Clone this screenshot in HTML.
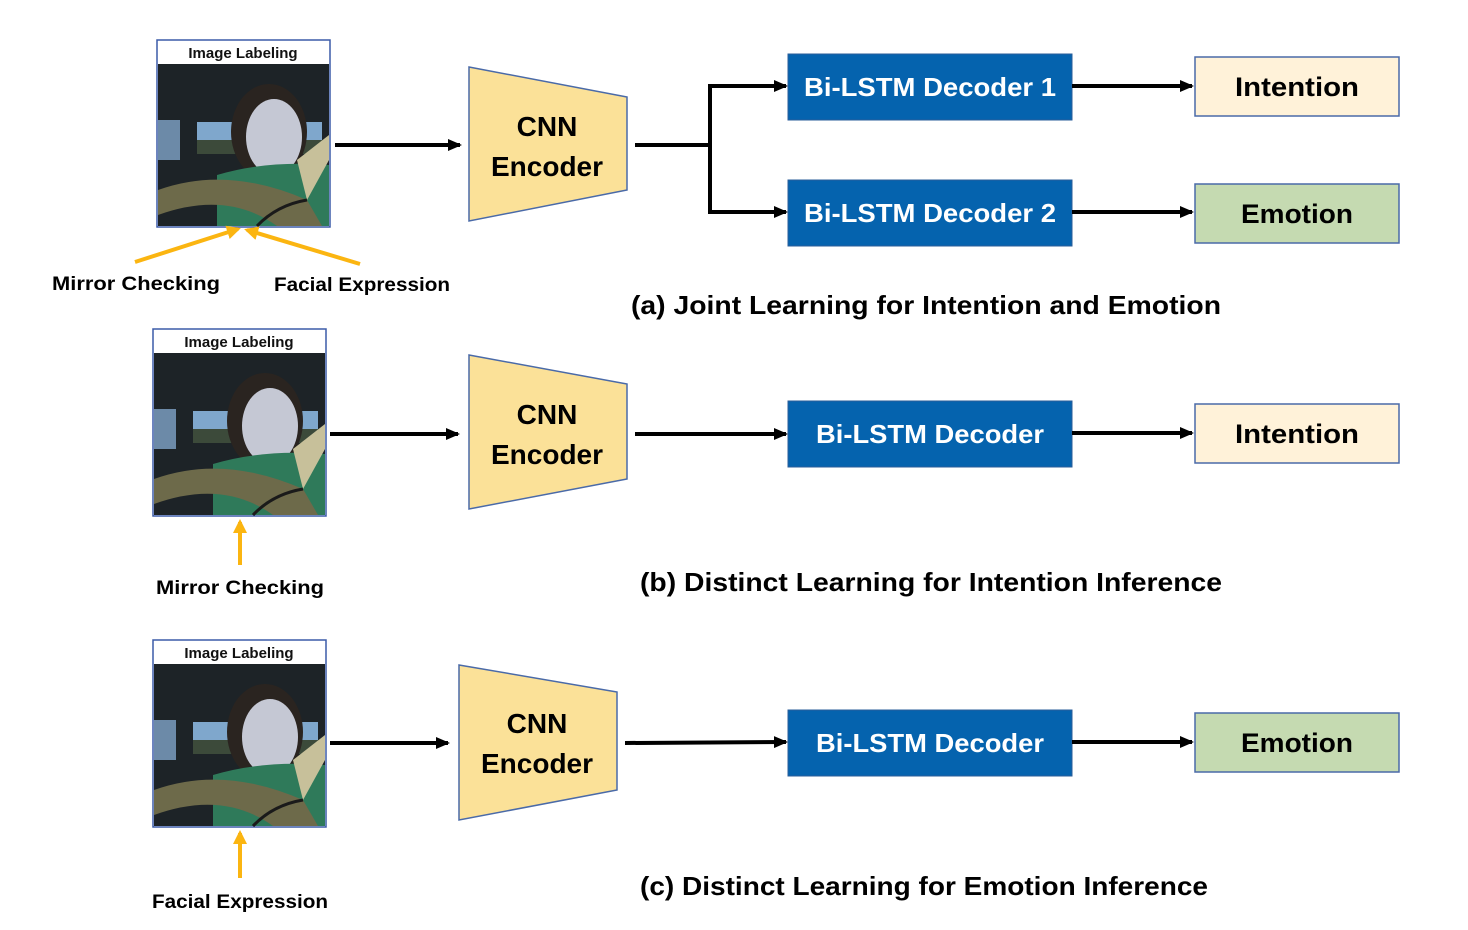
<!DOCTYPE html>
<html><head><meta charset="utf-8"><style>
html,body{margin:0;padding:0;background:#fff;}
svg{display:block;}
text{font-family:"Liberation Sans",sans-serif;font-weight:bold;}
</style></head><body>
<svg width="1468" height="930" viewBox="0 0 1468 930" xmlns="http://www.w3.org/2000/svg">
<defs>
<marker id="ah" markerWidth="14" markerHeight="12" refX="12" refY="6" orient="auto" markerUnits="userSpaceOnUse">
<path d="M0,0 L14,6 L0,12 z" fill="#000"/></marker>
<marker id="ay" markerWidth="14" markerHeight="14" refX="11" refY="7" orient="auto" markerUnits="userSpaceOnUse">
<path d="M0,0 L14,7 L0,14 z" fill="#fbb511"/></marker>
<g id="photo">
<rect x="0" y="0" width="173" height="187" fill="#fff" stroke="#3b5ba8" stroke-width="1.5"/>
<text x="86" y="18" font-size="15" text-anchor="middle" fill="#111">Image Labeling</text>
<rect x="1" y="24" width="171" height="162" fill="#1d2327"/>
<rect x="40" y="82" width="125" height="32" fill="#7fa7cc"/>
<rect x="40" y="100" width="125" height="14" fill="#3c4a3a"/>
<rect x="1" y="80" width="22" height="40" fill="#6c8aa8"/>
<ellipse cx="112" cy="92" rx="38" ry="48" fill="#2a2420"/>
<ellipse cx="117" cy="97" rx="28" ry="38" fill="#c5c8d4"/>
<path d="M60,135 Q110,120 172,125 L172,186 L60,186 z" fill="#2f7a5a"/>
<path d="M140,120 L172,95 L172,120 L150,160 z" fill="#c7c09a"/>
<path d="M1,150 Q70,125 150,160 L165,186 L120,186 Q70,150 1,175 z" fill="#6d6a4a"/>
<path d="M100,186 Q120,165 150,160" stroke="#1a1a1a" stroke-width="3" fill="none"/>
</g>
</defs>

<!-- (a) -->
<use href="#photo" x="157" y="40"/>
<line x1="335" y1="145" x2="460" y2="145" stroke="#000" stroke-width="4" marker-end="url(#ah)"/>
<polygon points="469,67 627,97 627,190 469,221" fill="#fbe198" stroke="#4a6aa8" stroke-width="1.5"/>
<text x="547" y="136" font-size="28" text-anchor="middle">CNN</text>
<text x="547" y="176" font-size="28" text-anchor="middle">Encoder</text>
<polyline points="635,145 710,145" stroke="#000" stroke-width="4" fill="none"/>
<line x1="710" y1="84" x2="710" y2="214" stroke="#000" stroke-width="4"/>
<line x1="708" y1="86" x2="786" y2="86" stroke="#000" stroke-width="4" marker-end="url(#ah)"/>
<line x1="708" y1="212" x2="786" y2="212" stroke="#000" stroke-width="4" marker-end="url(#ah)"/>
<rect x="788" y="54" width="284" height="66" fill="#0563ae" stroke="#2a5c9a"/>
<rect x="788" y="180" width="284" height="66" fill="#0563ae" stroke="#2a5c9a"/>
<text x="930" y="96" font-size="26" text-anchor="middle" fill="#fff" textLength="252" lengthAdjust="spacingAndGlyphs">Bi-LSTM Decoder 1</text>
<text x="930" y="222" font-size="26" text-anchor="middle" fill="#fff" textLength="252" lengthAdjust="spacingAndGlyphs">Bi-LSTM Decoder 2</text>
<line x1="1072" y1="86" x2="1192" y2="86" stroke="#000" stroke-width="4" marker-end="url(#ah)"/>
<line x1="1072" y1="212" x2="1192" y2="212" stroke="#000" stroke-width="4" marker-end="url(#ah)"/>
<rect x="1195" y="57" width="204" height="59" fill="#fff2d9" stroke="#4a6aa8" stroke-width="1.5"/>
<rect x="1195" y="184" width="204" height="59" fill="#c5dab1" stroke="#4a6aa8" stroke-width="1.5"/>
<text x="1297" y="96" font-size="27" text-anchor="middle" textLength="124" lengthAdjust="spacingAndGlyphs">Intention</text>
<text x="1297" y="223" font-size="27" text-anchor="middle" textLength="112" lengthAdjust="spacingAndGlyphs">Emotion</text>
<line x1="135" y1="262" x2="238" y2="229" stroke="#fbb511" stroke-width="4" marker-end="url(#ay)"/>
<line x1="360" y1="264" x2="247" y2="230" stroke="#fbb511" stroke-width="4" marker-end="url(#ay)"/>
<text x="136" y="290" font-size="19" text-anchor="middle" textLength="168" lengthAdjust="spacingAndGlyphs">Mirror Checking</text>
<text x="362" y="291" font-size="19" text-anchor="middle" textLength="176" lengthAdjust="spacingAndGlyphs">Facial Expression</text>
<text x="926" y="314" font-size="26" text-anchor="middle" textLength="590" lengthAdjust="spacingAndGlyphs">(a) Joint Learning for Intention and Emotion</text>

<!-- (b) -->
<use href="#photo" x="153" y="329"/>
<line x1="330" y1="434" x2="458" y2="434" stroke="#000" stroke-width="4" marker-end="url(#ah)"/>
<polygon points="469,355 627,384 627,479 469,509" fill="#fbe198" stroke="#4a6aa8" stroke-width="1.5"/>
<text x="547" y="424" font-size="28" text-anchor="middle">CNN</text>
<text x="547" y="464" font-size="28" text-anchor="middle">Encoder</text>
<line x1="635" y1="434" x2="786" y2="434" stroke="#000" stroke-width="4" marker-end="url(#ah)"/>
<rect x="788" y="401" width="284" height="66" fill="#0563ae" stroke="#2a5c9a"/>
<text x="930" y="443" font-size="26" text-anchor="middle" fill="#fff" textLength="228" lengthAdjust="spacingAndGlyphs">Bi-LSTM Decoder</text>
<line x1="1072" y1="433" x2="1192" y2="433" stroke="#000" stroke-width="4" marker-end="url(#ah)"/>
<rect x="1195" y="404" width="204" height="59" fill="#fff2d9" stroke="#4a6aa8" stroke-width="1.5"/>
<text x="1297" y="443" font-size="27" text-anchor="middle" textLength="124" lengthAdjust="spacingAndGlyphs">Intention</text>
<line x1="240" y1="565" x2="240" y2="522" stroke="#fbb511" stroke-width="4" marker-end="url(#ay)"/>
<text x="240" y="594" font-size="19" text-anchor="middle" textLength="168" lengthAdjust="spacingAndGlyphs">Mirror Checking</text>
<text x="931" y="591" font-size="26" text-anchor="middle" textLength="582" lengthAdjust="spacingAndGlyphs">(b) Distinct Learning for Intention Inference</text>

<!-- (c) -->
<use href="#photo" x="153" y="640"/>
<line x1="330" y1="743" x2="448" y2="743" stroke="#000" stroke-width="4" marker-end="url(#ah)"/>
<polygon points="459,665 617,692 617,790 459,820" fill="#fbe198" stroke="#4a6aa8" stroke-width="1.5"/>
<text x="537" y="733" font-size="28" text-anchor="middle">CNN</text>
<text x="537" y="773" font-size="28" text-anchor="middle">Encoder</text>
<line x1="625" y1="743" x2="786" y2="742" stroke="#000" stroke-width="4" marker-end="url(#ah)"/>
<rect x="788" y="710" width="284" height="66" fill="#0563ae" stroke="#2a5c9a"/>
<text x="930" y="752" font-size="26" text-anchor="middle" fill="#fff" textLength="228" lengthAdjust="spacingAndGlyphs">Bi-LSTM Decoder</text>
<line x1="1072" y1="742" x2="1192" y2="742" stroke="#000" stroke-width="4" marker-end="url(#ah)"/>
<rect x="1195" y="713" width="204" height="59" fill="#c5dab1" stroke="#4a6aa8" stroke-width="1.5"/>
<text x="1297" y="752" font-size="27" text-anchor="middle" textLength="112" lengthAdjust="spacingAndGlyphs">Emotion</text>
<line x1="240" y1="878" x2="240" y2="833" stroke="#fbb511" stroke-width="4" marker-end="url(#ay)"/>
<text x="240" y="908" font-size="19" text-anchor="middle" textLength="176" lengthAdjust="spacingAndGlyphs">Facial Expression</text>
<text x="924" y="895" font-size="26" text-anchor="middle" textLength="568" lengthAdjust="spacingAndGlyphs">(c) Distinct Learning for Emotion Inference</text>
</svg>
</body></html>
